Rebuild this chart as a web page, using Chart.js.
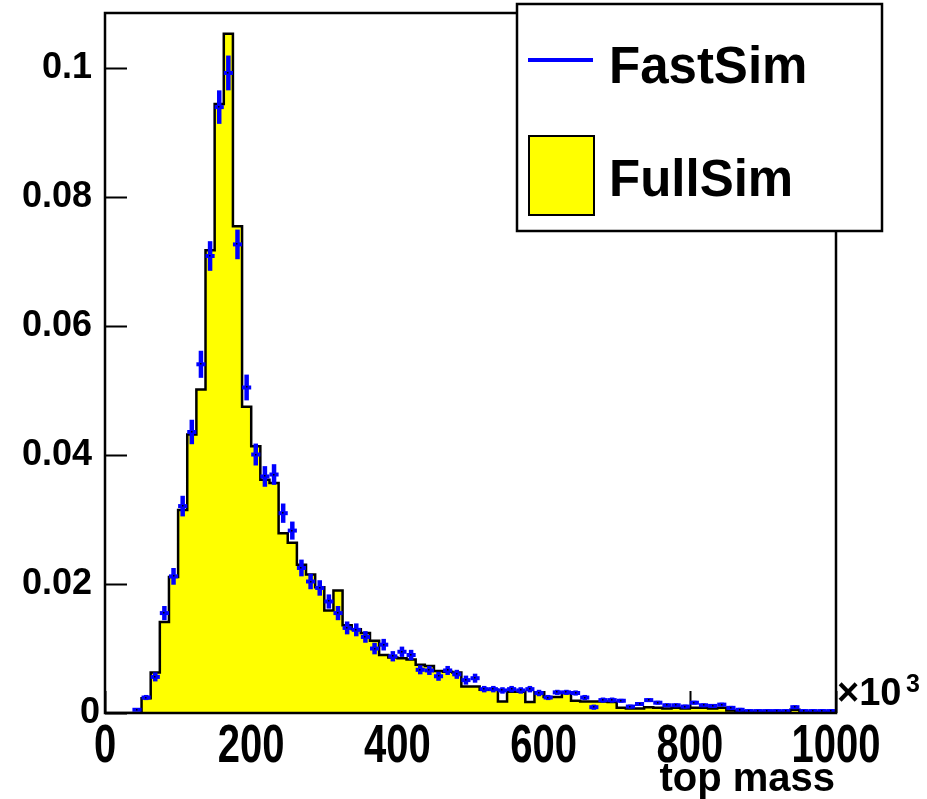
<!DOCTYPE html>
<html>
<head>
<meta charset="utf-8">
<title>top mass: FastSim vs FullSim</title>
<script src="https://cdn.jsdelivr.net/npm/chart.js@4/dist/chart.umd.min.js"></script>
<style>
  html, body { margin: 0; padding: 0; background: #ffffff; }
  #wrap { width: 927px; height: 799px; }
</style>
</head>
<body>
<div id="wrap"><canvas id="c" width="927" height="799"></canvas></div>
<script>
// Histogram binning: 80 bins of 12.5 (x10^3) between 0 and 1000
const binLow = 0;
const binWidth = 12.5;

// FullSim normalised bin contents (filled histogram)
const fullSim = [
  0, 0, 0, 0, 0.0023, 0.0063, 0.0141, 0.0211, 0.0315, 0.0432,
  0.0502, 0.0718, 0.0945, 0.1054, 0.0755, 0.0475, 0.0414, 0.0362, 0.0357, 0.0279,
  0.0264, 0.0230, 0.0215, 0.0195, 0.0159, 0.0190, 0.0136, 0.0130, 0.0124, 0.0112,
  0.0090, 0.0086, 0.0085, 0.0083, 0.0075, 0.0073, 0.0065, 0.0064, 0.0063, 0.0041,
  0.0041, 0.0036, 0.0036, 0.0018, 0.0033, 0.0033, 0.0017, 0.0032, 0.0025, 0.0025,
  0.0031, 0.0019, 0.0018, 0.0018, 0.0018, 0.0017, 0.0008, 0.0007, 0.0007, 0.0009,
  0.0008, 0.0007, 0.0008, 0.0007, 0.0008, 0.0008, 0.0007, 0.0008, 0.0004, 0.0003,
  0.0002, 0.0002, 0.0002, 0.0002, 0.0002, 0.0005, 0.0002, 0.0002, 0.0002, 0.0002
];

// FastSim normalised bin contents (points with error bars); null = empty bin
const fastSim = [
  null, null, null, 0.0005, 0.0024, 0.0056, 0.0155, 0.0212, 0.0321, 0.0436,
  0.0541, 0.0709, 0.0940, 0.0993, 0.0727, 0.0505, 0.0401, 0.0367, 0.0370, 0.0310,
  0.0283, 0.0225, 0.0204, 0.0194, 0.0173, 0.0155, 0.0132, 0.0129, 0.0118, 0.0100,
  0.0106, 0.0088, 0.0095, 0.0090, 0.0067, 0.0066, 0.0057, 0.0066, 0.0060, 0.0051,
  0.0054, 0.0037, 0.0037, 0.0035, 0.0037, 0.0035, 0.0037, 0.0031, 0.0024, 0.0032,
  0.0032, 0.0031, 0.0024, 0.0009, 0.0020, 0.0020, 0.0019, 0.0010, 0.0014, 0.0020,
  0.0016, 0.0012, 0.0012, 0.0010, 0.0016, 0.0012, 0.0011, 0.0013, 0.0008, 0.0005,
  0.0003, 0.0003, 0.0003, 0.0003, 0.0003, 0.0009, 0.0003, 0.0003, 0.0003, 0.0003
];

// FastSim statistical uncertainties per bin
const fastSimErr = [
  0, 0, 0, 0.0002, 0.0004, 0.0007, 0.0011, 0.0013, 0.0016, 0.0019,
  0.0021, 0.0023, 0.0026, 0.0027, 0.0023, 0.0020, 0.0017, 0.0016, 0.0016, 0.0015,
  0.0014, 0.0013, 0.0012, 0.0012, 0.0011, 0.0011, 0.0010, 0.0010, 0.0009, 0.0009,
  0.0009, 0.0008, 0.0008, 0.0008, 0.0007, 0.0007, 0.0007, 0.0007, 0.0007, 0.0007,
  0.0007, 0.0005, 0.0005, 0.0005, 0.0005, 0.0005, 0.0005, 0.0005, 0.0004, 0.0004,
  0.0004, 0.0004, 0.0004, 0.0004, 0.0004, 0.0004, 0.0003, 0.0003, 0.0003, 0.0003,
  0.0003, 0.0003, 0.0003, 0.0003, 0.0003, 0.0003, 0.0003, 0.0003, 0.0003, 0.0003,
  0.0003, 0.0003, 0.0003, 0.0003, 0.0003, 0.0003, 0.0003, 0.0003, 0.0003, 0.0003
];

// Axis ticks and labels
const xTicks = [0, 200, 400, 600, 800, 1000];
const xTickLabels = ['0', '200', '400', '600', '800', '1000'];
const yTicks = [0, 0.02, 0.04, 0.06, 0.08, 0.1];
const yTickLabels = ['0', '0.02', '0.04', '0.06', '0.08', '0.1'];
const xMin = 0, xMax = 1000, yMin = 0, yMax = 0.1086;

const seriesNames = ['FastSim', 'FullSim'];
const xTitle = 'top mass';
const xExponent = ['\u00d710', '3'];

const FONT = '"Liberation Sans", Arial, Helvetica, sans-serif';
const BLUE = '#0000ff';
const YELLOW = '#ffff00';

// Step outline of the FullSim histogram: one point per bin edge
const fullSimSteps = fullSim.map((v, i) => ({ x: binLow + i * binWidth, y: v }));
fullSimSteps.push({ x: binLow + fullSim.length * binWidth, y: fullSim[fullSim.length - 1] });

// Inner tick marks, drawn under the histogram
const innerTicks = {
  id: 'innerTicks',
  beforeDatasetsDraw(chart) {
    const { ctx, chartArea: a, scales: { x, y } } = chart;
    ctx.save();
    ctx.strokeStyle = '#000';
    ctx.lineWidth = 2;
    ctx.beginPath();
    yTicks.forEach(t => {
      const py = Math.round(y.getPixelForValue(t)) + 0.5;
      ctx.moveTo(a.left, py); ctx.lineTo(a.left + 22, py);
    });
    xTicks.forEach(t => {
      const px = Math.round(x.getPixelForValue(t)) + 0.5;
      ctx.moveTo(px, a.bottom); ctx.lineTo(px, a.bottom - 22);
    });
    ctx.stroke();
    ctx.restore();
  }
};

// FastSim markers (bin-width bar + vertical error bar), frame, legend and axis texts
const overlay = {
  id: 'overlay',
  afterDatasetsDraw(chart) {
    const { ctx, chartArea: a, scales: { x, y } } = chart;
    ctx.save();
    ctx.beginPath();
    ctx.rect(a.left, 0, a.right - a.left, a.bottom + 1);
    ctx.clip();
    ctx.strokeStyle = BLUE;
    ctx.lineCap = 'butt';
    fastSim.forEach((v, i) => {
      if (v === null) return;
      const lo = binLow + i * binWidth;
      const x0 = x.getPixelForValue(lo);
      const x1 = x.getPixelForValue(lo + binWidth);
      const xc = x.getPixelForValue(lo + binWidth / 2);
      const py = y.getPixelForValue(v);
      const e = fastSimErr[i];
      ctx.lineWidth = 4;
      ctx.beginPath();
      ctx.moveTo(x0, py); ctx.lineTo(x1, py);
      ctx.stroke();
      if (e > 0) {
        ctx.lineWidth = 4.5;
        ctx.beginPath();
        ctx.moveTo(xc, y.getPixelForValue(v + e));
        ctx.lineTo(xc, y.getPixelForValue(Math.max(0, v - e)));
        ctx.stroke();
      }
      ctx.fillStyle = '#000';
      ctx.fillRect(Math.round(xc) - 1, Math.round(py) - 1, 1.5, 1.5);
    });
    ctx.restore();

    ctx.save();
    // frame
    ctx.strokeStyle = '#000';
    ctx.lineWidth = 2.5;
    ctx.strokeRect(a.left, a.top, a.right - a.left, a.bottom - a.top);

    // legend box
    const L = { l: 517, t: 4, r: 882, b: 231 };
    ctx.fillStyle = '#fff';
    ctx.fillRect(L.l, L.t, L.r - L.l, L.b - L.t);
    ctx.lineWidth = 2.5;
    ctx.strokeRect(L.l, L.t, L.r - L.l, L.b - L.t);
    ctx.strokeStyle = BLUE;
    ctx.lineWidth = 4;
    ctx.beginPath(); ctx.moveTo(528, 60); ctx.lineTo(593, 60); ctx.stroke();
    ctx.fillStyle = YELLOW;
    ctx.fillRect(529, 136, 65, 79);
    ctx.strokeStyle = '#000';
    ctx.lineWidth = 2;
    ctx.strokeRect(529, 136, 65, 79);
    ctx.fillStyle = '#000';
    ctx.font = 'bold 51px ' + FONT;
    ctx.textAlign = 'left';
    ctx.textBaseline = 'alphabetic';
    ctx.fillText(seriesNames[0], 609, 83);
    ctx.fillText(seriesNames[1], 609, 196);

    // y label at the origin, set slightly lower and closer to the axis
    ctx.font = 'bold 36px ' + FONT;
    ctx.textAlign = 'right';
    ctx.textBaseline = 'middle';
    ctx.fillText(yTickLabels[0], 100, y.getPixelForValue(yTicks[0]));
    ctx.textBaseline = 'alphabetic';

    // x tick labels (tall bold digits)
    ctx.font = 'bold 40px ' + FONT;
    ctx.textAlign = 'center';
    xTicks.forEach((t, i) => {
      ctx.save();
      ctx.translate(x.getPixelForValue(t), 762);
      ctx.scale(1, 1.36);
      ctx.fillText(xTickLabels[i], 0, 0);
      ctx.restore();
    });

    // axis title and exponent
    ctx.font = 'bold 40px ' + FONT;
    ctx.textAlign = 'right';
    ctx.fillText(xTitle, 835, 791);
    ctx.textAlign = 'left';
    ctx.font = 'bold 38px ' + FONT;
    ctx.fillText(xExponent[0], 837, 705);
    ctx.font = 'bold 25px ' + FONT;
    ctx.fillText(xExponent[1], 906, 692);
    ctx.restore();
  }
};

new Chart(document.getElementById('c'), {
  type: 'scatter',
  data: {
    datasets: [{
      label: seriesNames[1],
      data: fullSimSteps,
      showLine: true,
      stepped: 'before',
      fill: 'origin',
      backgroundColor: YELLOW,
      borderColor: '#000',
      borderWidth: 2.5,
      pointRadius: 0,
      pointHoverRadius: 0
    }]
  },
  options: {
    responsive: false,
    animation: false,
    events: [],
    layout: { padding: { left: 0, right: 91, top: 13, bottom: 0 } },
    plugins: { legend: { display: false }, tooltip: { enabled: false }, title: { display: false } },
    scales: {
      x: {
        type: 'linear', min: xMin, max: xMax,
        afterFit(s) { s.height = 86; s.paddingLeft = 0; s.paddingRight = 0; },
        afterBuildTicks(s) { s.ticks = xTicks.map(v => ({ value: v })); },
        grid: { display: false, drawTicks: false },
        border: { display: false },
        ticks: { display: false }
      },
      y: {
        type: 'linear', min: yMin, max: yMax,
        afterFit(s) { s.width = 105; s.paddingTop = 0; s.paddingBottom = 0; },
        afterBuildTicks(s) { s.ticks = yTicks.map(v => ({ value: v })); },
        grid: { display: false, drawTicks: false },
        border: { display: false },
        ticks: {
          padding: 13, color: '#000', autoSkip: false,
          font: { family: FONT, size: 36, weight: 'bold' },
          callback: (v) => {
            const k = yTicks.findIndex(t => Math.abs(t - v) < 1e-9);
            return k > 0 ? yTickLabels[k] : '';
          }
        }
      }
    }
  },
  plugins: [innerTicks, overlay]
});
</script>
</body>
</html>
